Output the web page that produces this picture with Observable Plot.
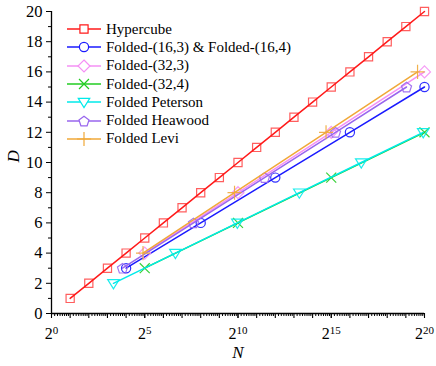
<!DOCTYPE html>
<html>
<head>
<meta charset="utf-8">
<script src="https://cdn.jsdelivr.net/npm/d3@7"></script>
<script src="https://cdn.jsdelivr.net/npm/@observablehq/plot@0.6"></script>
<style>
  body { margin: 0; background: #fff; }
  #wrap { position: relative; width: 436px; height: 366px; font-family: "Liberation Serif", "DejaVu Serif", serif; }
  #wrap svg text { font-family: "Liberation Serif", "DejaVu Serif", serif; }
  #legend { position: absolute; left: 67px; top: 20px; font-family: "Liberation Serif", "DejaVu Serif", serif; }
  .row { height: 18.3px; display: flex; align-items: center; font-size: 15px; white-space: nowrap; }
  .row svg { margin-right: 5px; }
</style>
</head>
<body>
<div id="wrap"></div>
<script>
// ---- data ----
const seriesNames = ["Hypercube", "Folded-(16,3) & Folded-(16,4)", "Folded-(32,3)", "Folded-(32,4)", "Folded Peterson", "Folded Heawood", "Folded Levi"];
const seriesColors = ["#ff1a1a", "#1a1aff", "#f590f5", "#22cc22", "#00eaea", "#9966ee", "#f0a838"];

const hypercubeN = [2, 4, 8, 16, 32, 64, 128, 256, 512, 1024, 2048, 4096, 8192, 16384, 32768, 65536, 131072, 262144, 524288, 1048576];
const hypercubeD = [1, 2, 3, 4, 5, 6, 7, 8, 9, 10, 11, 12, 13, 14, 15, 16, 17, 18, 19, 20];
const folded16N = [16, 256, 4096, 65536, 1048576];
const folded16D = [3, 6, 9, 12, 15];
const folded323N = [32, 1024, 32768, 1048576];
const folded323D = [4, 8, 12, 16];
const folded324N = [32, 1024, 32768, 1048576];
const folded324D = [3, 6, 9, 12];
const petersonN = [10, 100, 1000, 10000, 100000, 1000000];
const petersonD = [2, 4, 6, 8, 10, 12];
const heawoodN = [14, 196, 2744, 38416, 537824];
const heawoodD = [3, 6, 9, 12, 15];
const leviN = [30, 900, 27000, 810000];
const leviD = [4, 8, 12, 16];

const xTickExponents = [0, 5, 10, 15, 20];
const yTicks = [0, 2, 4, 6, 8, 10, 12, 14, 16, 18, 20];

// ---- custom symbols ----
const triangleDown = {
  draw(ctx, size) {
    const R = Math.sqrt(size / Math.PI);
    ctx.moveTo(-1.25 * R, -0.8 * R);
    ctx.lineTo(1.25 * R, -0.8 * R);
    ctx.lineTo(0, 1.2 * R);
    ctx.closePath();
  }
};
const pentagon = {
  draw(ctx, size) {
    const R = Math.sqrt(size / Math.PI) * 1.15;
    for (let i = 0; i < 5; i++) {
      const a = -Math.PI / 2 + i * 2 * Math.PI / 5;
      const x = R * Math.cos(a), y = R * Math.sin(a) + 0.1 * R;
      if (i === 0) ctx.moveTo(x, y); else ctx.lineTo(x, y);
    }
    ctx.closePath();
  }
};
const diamond = {
  draw(ctx, size) {
    const R = Math.sqrt(size / Math.PI) * 1.3;
    ctx.moveTo(0, -R); ctx.lineTo(R, 0); ctx.lineTo(0, R); ctx.lineTo(-R, 0); ctx.closePath();
  }
};
const seriesSymbols = [d3.symbolSquare, d3.symbolCircle, diamond, d3.symbolTimes, triangleDown, pentagon, d3.symbolPlus];

const seriesData = [
  [hypercubeN, hypercubeD], [folded16N, folded16D], [folded323N, folded323D], [folded324N, folded324D],
  [petersonN, petersonD], [heawoodN, heawoodD], [leviN, leviD]
].map(([ns, ds], i) => ns.map((n, j) => ({series: seriesNames[i], N: n, D: ds[j]})));

// minor ticks on log2 axis
const mediumTicks = d3.range(0, 21).map(k => 2 ** k);
const minorTicks = [];
for (let k = 0; k < 20; k++) for (let i = 1; i < 8; i++) minorTicks.push(2 ** k * (1 + i / 8));
const yMinor = d3.range(1, 20, 2);

const R = 4.6;
const marks = [];
seriesData.forEach((data, i) => {
  marks.push(Plot.line(data, {x: "N", y: "D", stroke: seriesColors[i], strokeWidth: 1.5}));
  marks.push(Plot.dot(data, {x: "N", y: "D", stroke: seriesColors[i], symbol: seriesSymbols[i], r: R, strokeWidth: 1.2, fill: "none", strokeOpacity: i === 0 ? 0.7 : 0.9}));
});

const serif = "'Liberation Serif', 'DejaVu Serif', serif";
const chart = Plot.plot({
  width: 436,
  height: 366,
  marginLeft: 51,
  marginRight: 12,
  marginTop: 11,
  marginBottom: 53,
  style: {fontFamily: serif, background: "#fff", color: "#000"},
  x: {type: "log", base: 2, domain: [1, 2 ** 20]},
  y: {domain: [0, 20]},
  marks: [
    Plot.axisX(minorTicks, {tickSize: 3, tickFormat: () => "", label: null, strokeWidth: 1}),
    Plot.axisX(mediumTicks, {tickSize: 5, tickFormat: () => "", label: null, strokeWidth: 1.1}),
    Plot.axisX(xTickExponents.map(e => 2 ** e), {tickSize: 5, tickPadding: 9, fontSize: 16, label: null,
      tickFormat: d => "2^" + Math.round(Math.log2(d))}),
    Plot.axisY(yTicks, {tickSize: 5, tickPadding: 4, fontSize: 16.5, label: null}),
    Plot.axisY(yMinor, {tickSize: 3, tickFormat: () => "", label: null}),
    Plot.ruleY([0], {strokeWidth: 1.3}),
    Plot.ruleX([1], {strokeWidth: 1.3}),
    ...marks,
    Plot.text(["N"], {frameAnchor: "bottom", dy: 44, fontSize: 17, fontStyle: "italic"}),
    Plot.text(["D"], {frameAnchor: "left", dx: -38, rotate: -90, fontSize: 17, fontStyle: "italic"})
  ]
});

// render superscripts on x tick labels
d3.select(chart).selectAll("text").each(function () {
  const t = this.textContent;
  if (/^2\^\d+$/.test(t)) {
    const e = t.split("^")[1];
    const sel = d3.select(this);
    sel.text("");
    sel.append("tspan").text("2");
    sel.append("tspan").attr("dy", "-0.45em").attr("font-size", "11px").text(e);
  }
});

const wrap = document.getElementById("wrap");
wrap.appendChild(chart);

// legend
const legend = document.createElement("div");
legend.id = "legend";
seriesNames.forEach((name, i) => {
  const row = document.createElement("div");
  row.className = "row";
  const svg = d3.create("svg").attr("width", 34).attr("height", 18);
  svg.append("line").attr("x1", 0).attr("x2", 34).attr("y1", 9).attr("y2", 9)
    .attr("stroke", seriesColors[i]).attr("stroke-width", 1.5);
  svg.append("path").attr("transform", "translate(17,9)")
    .attr("d", d3.symbol(seriesSymbols[i], Math.PI * R * R)())
    .attr("fill", "#fff").attr("stroke", seriesColors[i]).attr("stroke-width", 1.2);
  row.appendChild(svg.node());
  const span = document.createElement("span");
  span.textContent = name;
  row.appendChild(span);
  legend.appendChild(row);
});
wrap.appendChild(legend);
</script>
</body>
</html>
